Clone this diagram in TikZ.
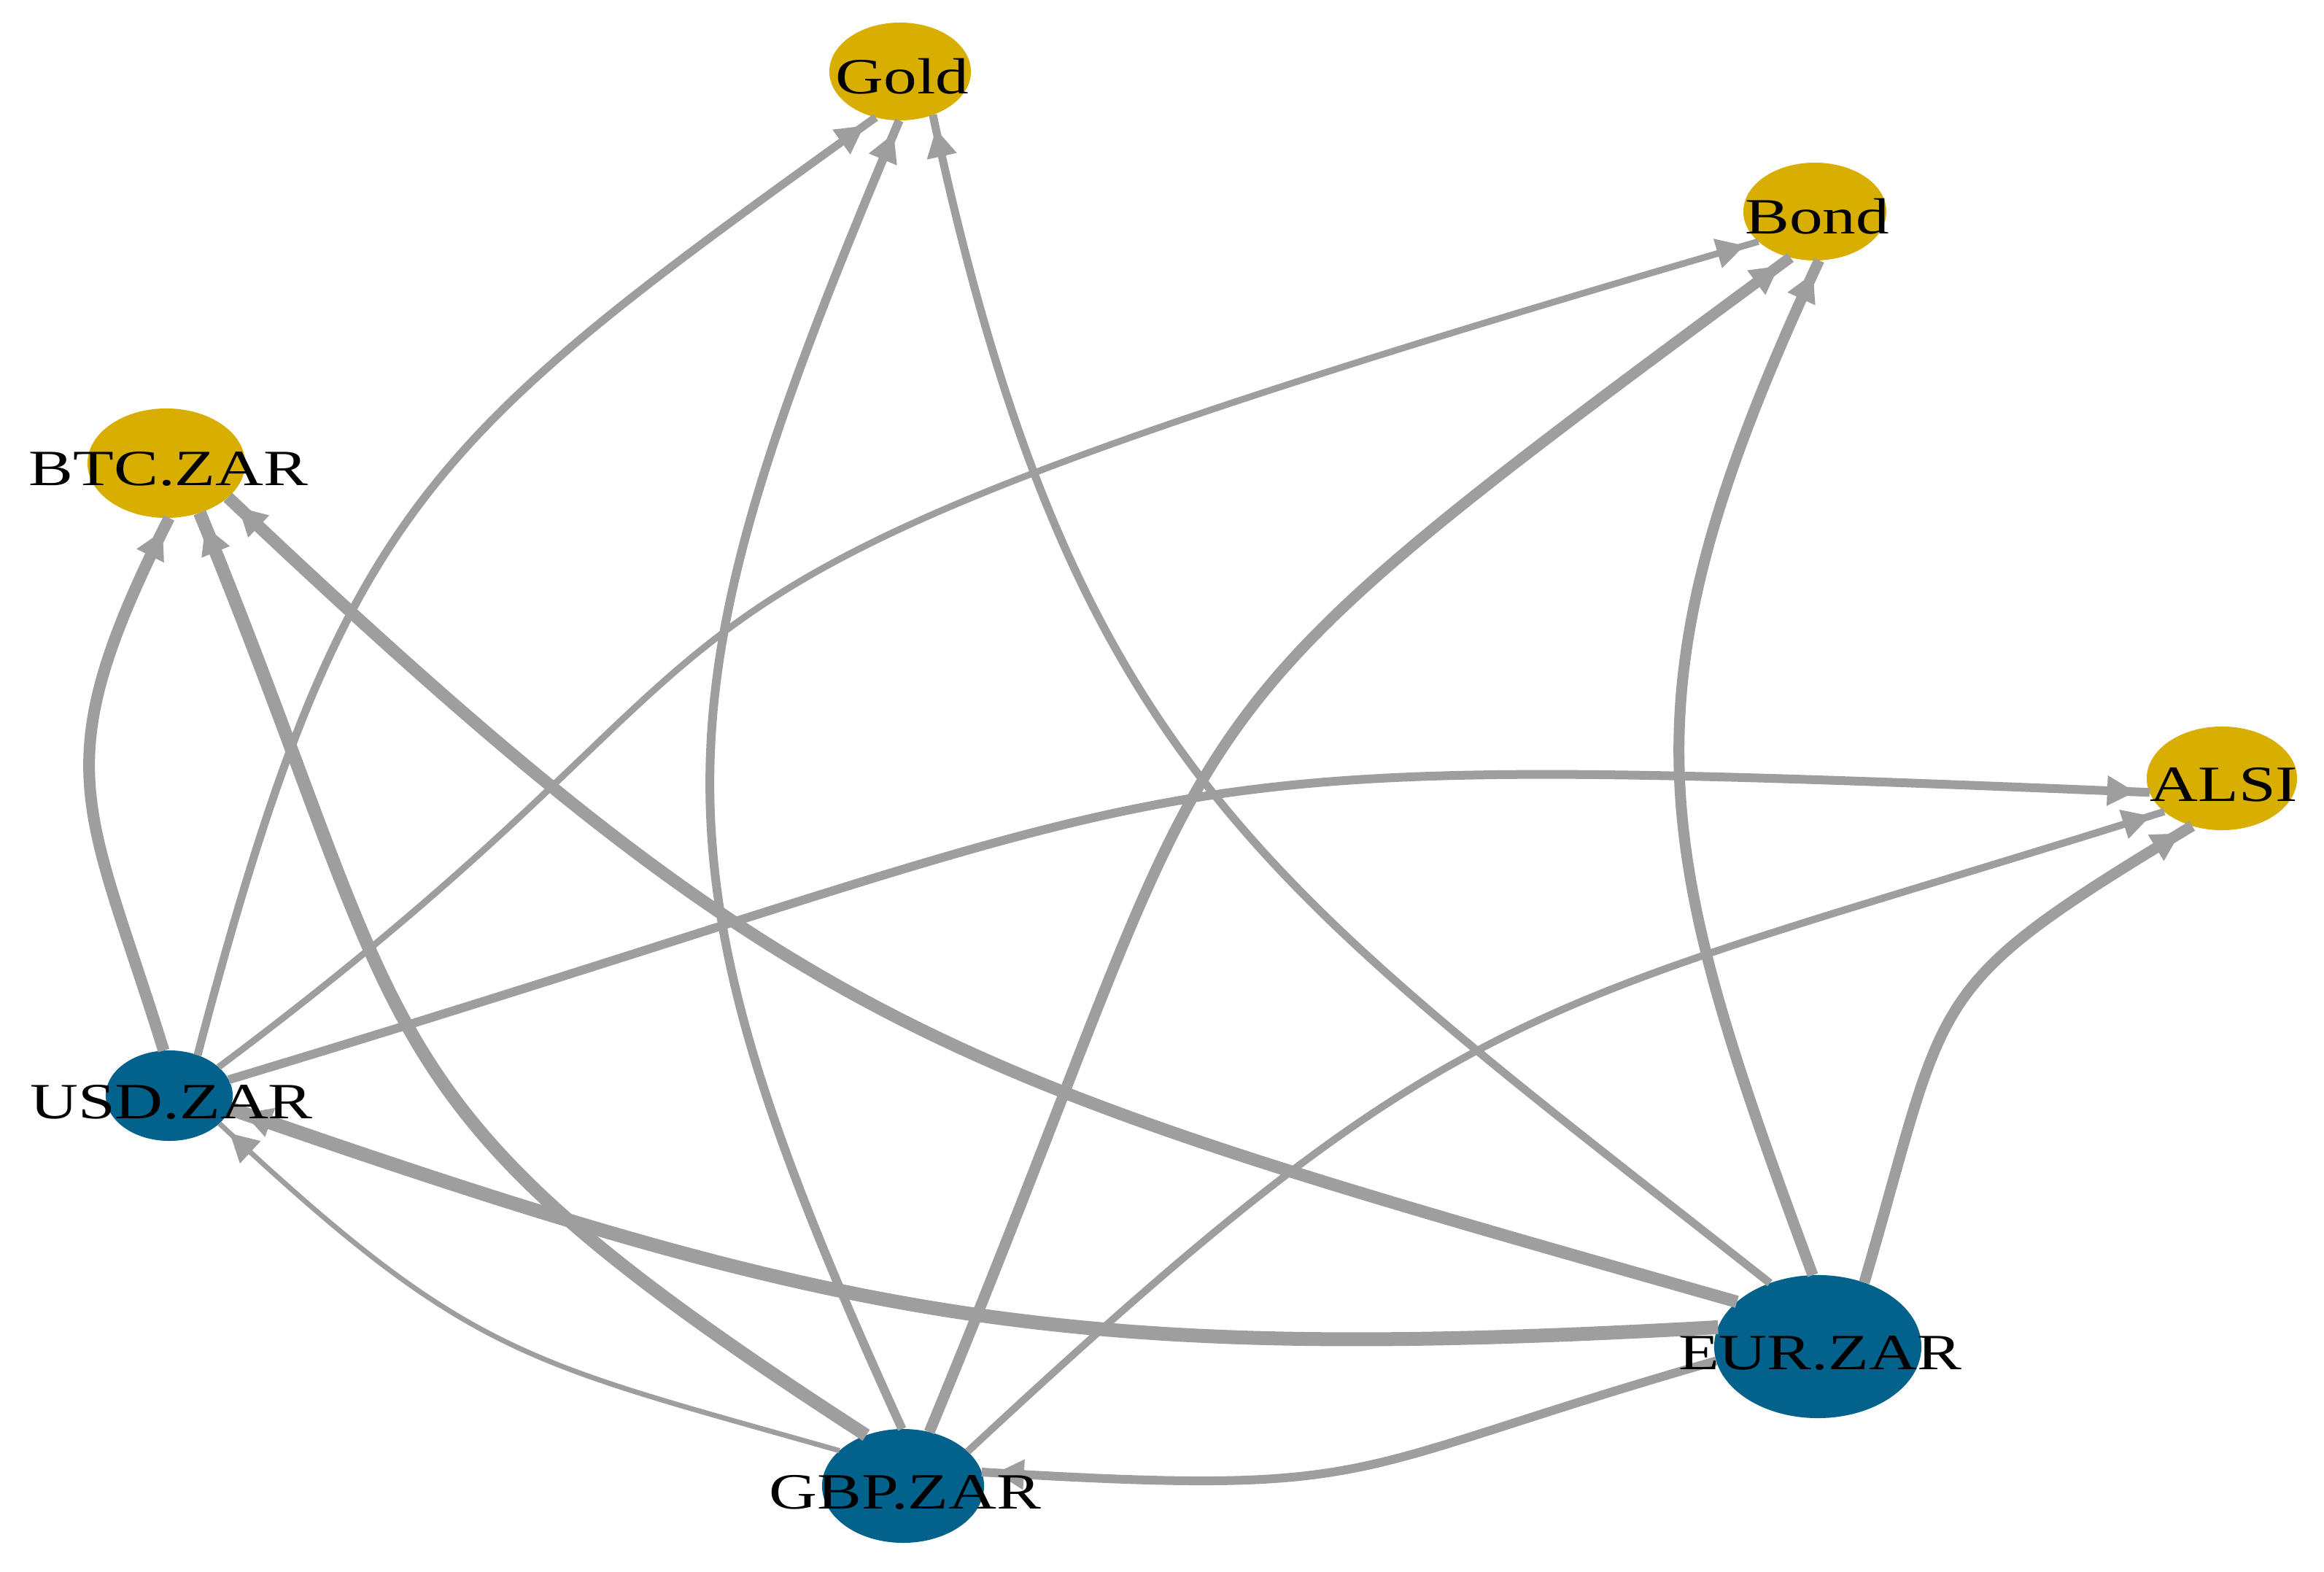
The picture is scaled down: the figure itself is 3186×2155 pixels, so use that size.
\documentclass[tikz,border=0pt]{standalone}
\usepackage{fontspec}
\setmainfont{Liberation Serif}
\usetikzlibrary{shapes.geometric,arrows.meta,decorations.markings}
\definecolor{edgegray}{HTML}{9E9E9E}
\definecolor{assetgold}{HTML}{D8AF00}
\definecolor{fxblue}{HTML}{02628C}
\tikzset{
  vert/.style={ellipse, inner sep=0pt, outer sep=0pt, draw=none},
  asset/.style={vert, fill=assetgold},
  fx/.style={vert, fill=fxblue},
  lbl/.style={anchor=base, inner sep=0pt, font=\fontsize{19.8pt}{24pt}\selectfont},
  conn/.style={draw=edgegray, decoration={markings, mark=at position -0.2cm with {\arrow{Triangle[length=0.38cm,width=0.42cm,line width=0pt]}}}, postaction={decorate}},
}
\newcommand\stretchlbl[1]{\scalebox{1.31}[1]{#1}}
\begin{document}
\begin{tikzpicture}[x=0.01cm,y=-0.01cm]
\fill[white] (0,0) rectangle (3186,2155);
\useasboundingbox (0,0) rectangle (3186,2155);
% vertices
\node[fx, minimum width=1.74cm, minimum height=1.24cm] (usd) at (232,1502) {};
\node[fx, minimum width=2.22cm, minimum height=1.56cm] (gbp) at (1238,2037) {};
\node[fx, minimum width=2.84cm, minimum height=1.96cm] (eur) at (2492,1846) {};
\node[asset, minimum width=2.16cm, minimum height=1.50cm] (btc) at (228,635) {};
\node[asset, minimum width=1.94cm, minimum height=1.34cm] (gold) at (1234,98) {};
\node[asset, minimum width=1.96cm, minimum height=1.34cm] (bond) at (2488,290) {};
\node[asset, minimum width=2.06cm, minimum height=1.42cm] (alsi) at (3046,1067) {};
% edges into BTC.ZAR
\draw[conn, line width=0.16cm] (usd.97) .. controls (118,1098) and (58,1054) .. (btc.273);
\draw[conn, line width=0.18cm] (gbp.126) .. controls (478,1509) and (576,1440) .. (btc.304);
\draw[conn, line width=0.17cm] (eur.151) .. controls (1288,1474) and (1099,1426) .. (btc.331);
% edges into Gold
\draw[conn, line width=0.11cm] (usd.55) .. controls (470,688) and (585,603) .. (gold.242);
\draw[conn, line width=0.12cm] (gbp.91) .. controls (876,1170) and (896,963) .. (gold.269);
\draw[conn, line width=0.11cm] (eur.127) .. controls (1735,1213) and (1472,1057) .. (gold.307);
% edges into Bond
\draw[conn, line width=0.09cm] (usd.30) .. controls (1187,799) and (654,843) .. (bond.208);
\draw[conn, line width=0.15cm] (gbp.64) .. controls (1709,912) and (1527,1037) .. (bond.242);
\draw[conn, line width=0.15cm] (eur.94) .. controls (2264,1151) and (2215,955) .. (bond.275);
% edges into ALSI
\draw[conn, line width=0.12cm] (usd.15) .. controls (1746,1048) and (1459,1026) .. (alsi.191);
\draw[conn, line width=0.10cm] (gbp.28) .. controls (2015,1349) and (2086,1390) .. (alsi.210);
\draw[conn, line width=0.15cm] (eur.54) .. controls (2674,1355) and (2631,1358) .. (alsi.238);
% edges among currencies
\draw[conn, line width=0.19cm] (eur.169) .. controls (1457,1870) and (1160,1814) .. (usd.348);
\draw[conn, line width=0.07cm] (gbp.151) .. controls (716,1865) and (645,1862) .. (usd.331);
\draw[conn, line width=0.12cm] (eur.188) .. controls (1822,2018) and (1910,2052) .. (gbp.10);
% labels
\node[lbl] (usdL) at (235,1533) {\stretchlbl{USD.ZAR}};
\node[lbl] (gbpL) at (1241,2068) {\stretchlbl{GBP.ZAR}};
\node[lbl] (eurL) at (2495,1877) {\stretchlbl{EUR.ZAR}};
\node[lbl] (btcL) at (231,666) {\stretchlbl{BTC.ZAR}};
\node[lbl] (goldL) at (1237,129) {\stretchlbl{Gold}};
\node[lbl] (bondL) at (2491,321) {\stretchlbl{Bond}};
\node[lbl] (alsiL) at (3049,1098) {\stretchlbl{ALSI}};
\end{tikzpicture}
\end{document}
